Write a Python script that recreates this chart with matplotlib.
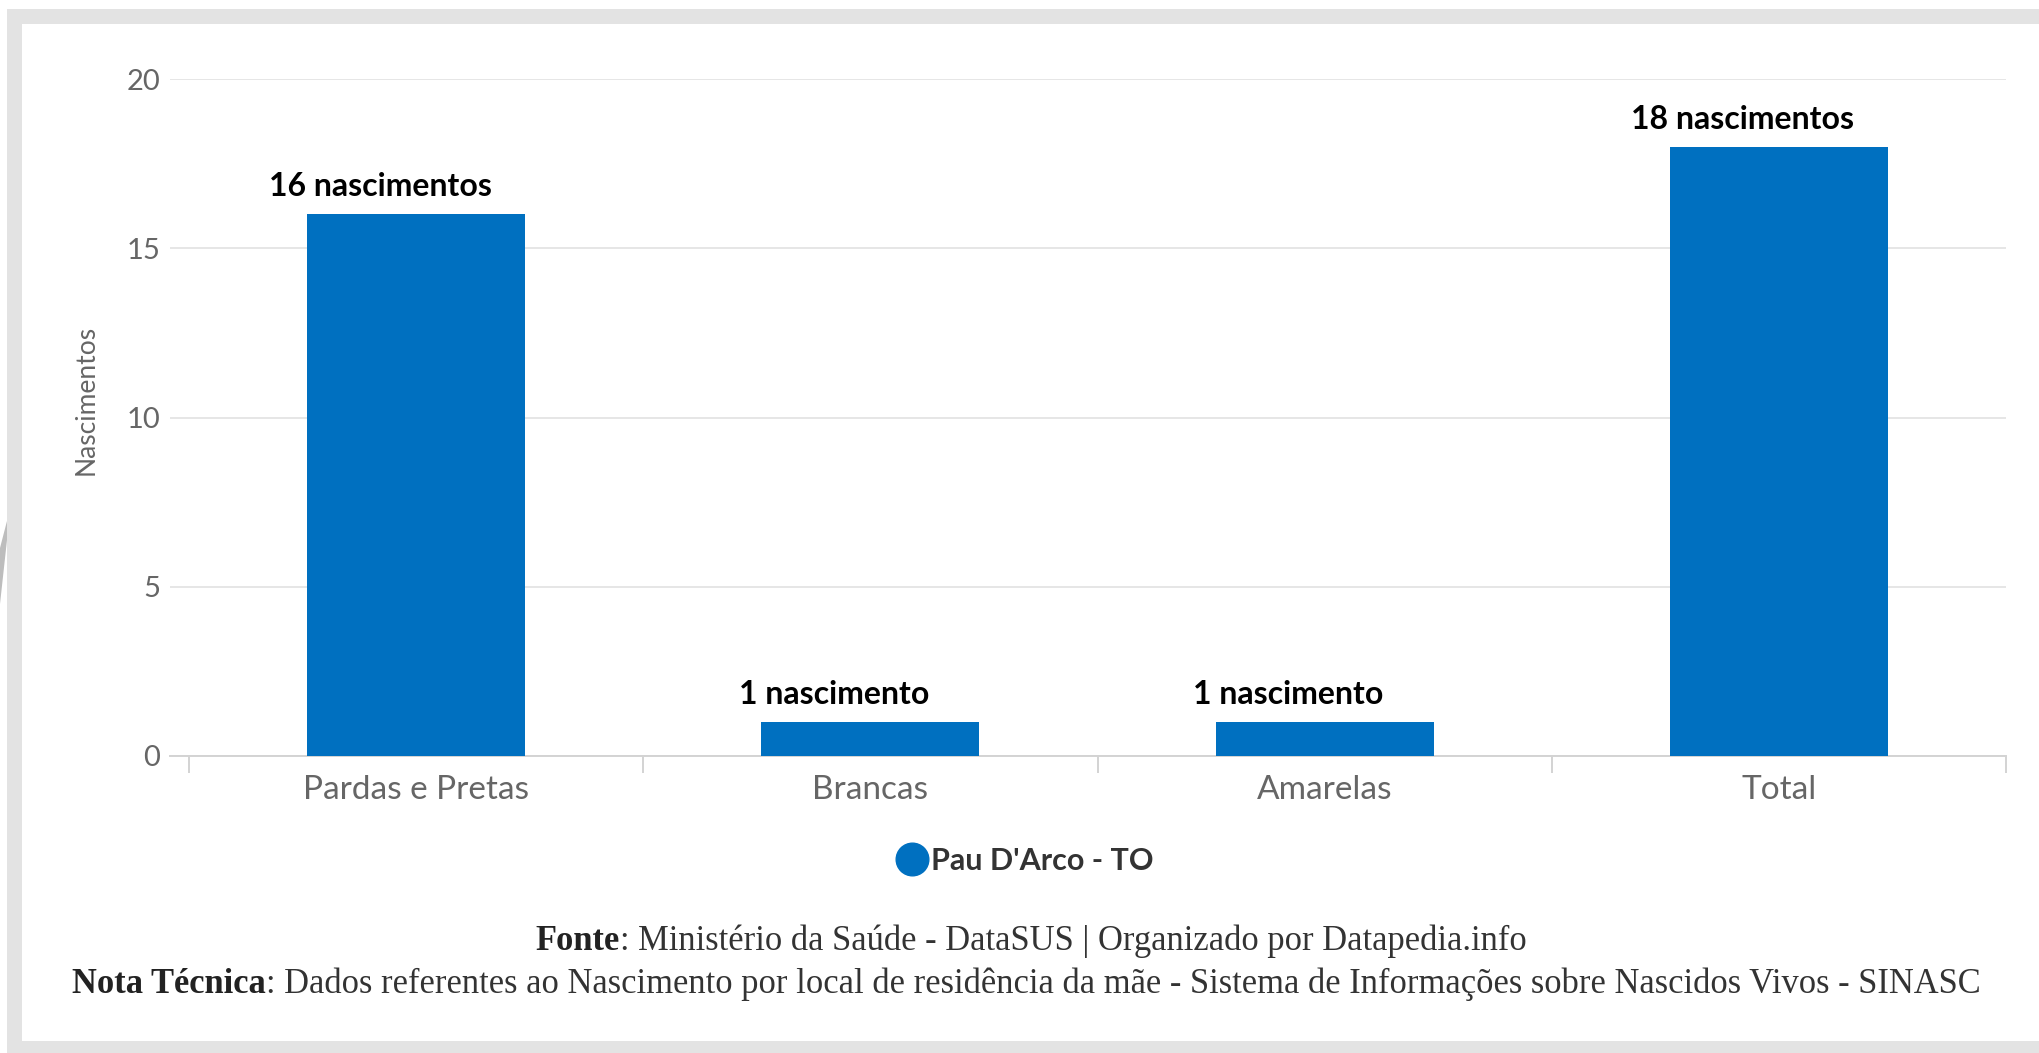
import matplotlib
matplotlib.use("Agg")
import matplotlib.pyplot as plt
from matplotlib.patches import Rectangle, Polygon
from matplotlib.lines import Line2D

# ---- data ----
categories = ["Pardas e Pretas", "Brancas", "Amarelas", "Total"]
births = [16, 1, 1, 18]
value_labels = ["16 nascimentos", "1 nascimento", "1 nascimento", "18 nascimentos"]
y_ticks = [0, 5, 10, 15, 20]
series_name = "Pau D'Arco - TO"
y_title = "Nascimentos"
source_bold = "Fonte"
source_rest = ": Ministério da Saúde - DataSUS | Organizado por Datapedia.info"
note_bold = "Nota Técnica"
note_rest = (": Dados referentes ao Nascimento por local de residência da mãe - "
             "Sistema de Informações sobre Nascidos Vivos - SINASC")

# ---- style ----
W, H = 2040, 1053
BAR = "#0070c0"
GRID = "#e6e6e6"
AXIS = "#d3d3d3"
LABEL = "#666666"
FRAME = "#e3e3e3"
SANS = ["Lato", "DejaVu Sans"]
SERIF = ["Liberation Serif", "DejaVu Serif"]

fig = plt.figure(figsize=(W / 100, H / 100), dpi=100)
fig.patch.set_facecolor("white")


def fx(px):
    return px / W


def fy(py):
    return 1 - py / H


def frame_rect(x0, y0, x1, y1, color, z):
    fig.patches.append(Rectangle((fx(x0), fy(y1)), fx(x1) - fx(x0), fy(y0) - fy(y1),
                                 transform=fig.transFigure, facecolor=color,
                                 edgecolor="none", zorder=z))


# light grey card border
frame_rect(7, 9, W, H, FRAME, 0)
frame_rect(22, 24, W, 1041, "white", 0.5)
fig.patches.append(Polygon([(fx(7), fy(521)), (fx(7), fy(540)), (fx(0), fy(604)), (fx(0), fy(548))],
                           closed=True, transform=fig.transFigure, facecolor="#bdbdbd",
                           edgecolor="none", zorder=1))

# ---- plot area ----
ax = fig.add_axes([fx(170), fy(756), fx(2006) - fx(170), fy(79) - fy(756)])
ax.set_facecolor("none")
ax.set_zorder(2)
x = list(range(len(categories)))
ax.bar(x, births, width=0.48, color=BAR, zorder=3)
ax.set_xlim(-0.5 - 19 / 454, len(categories) - 0.5)
ax.set_ylim(0, 20)

ax.set_yticks(y_ticks)
ax.set_yticklabels([str(t) for t in y_ticks], fontsize=21, color=LABEL, family=SANS)
ax.tick_params(axis="y", length=0, pad=7)
ax.yaxis.grid(True, color=GRID, linewidth=1.4, zorder=0)
ax.set_axisbelow(True)

ax.set_xticks(x)
ax.set_xticklabels(categories, fontsize=24, color=LABEL, family=SANS)
ax.tick_params(axis="x", length=0, pad=13.5)
ax.set_xticks([i - 0.5 for i in range(len(categories) + 1)], minor=True)
ax.tick_params(axis="x", which="minor", length=12.5, width=1.4, color=AXIS)

for side in ["top", "right", "left"]:
    ax.spines[side].set_visible(False)
ax.spines["bottom"].set_color(AXIS)
ax.spines["bottom"].set_linewidth(1.4)

ax.set_ylabel(y_title, fontsize=19, color=LABEL, family=SANS)
ax.yaxis.set_label_coords(-0.039, (756 - 400) / (756 - 79))

for xi, v, lab in zip(x, births, value_labels):
    ax.annotate(lab, (xi, v), xytext=(-36, 18), textcoords="offset pixels",
                ha="center", va="baseline", fontsize=23, fontweight="bold",
                color="black", family=SANS, zorder=4)

# ---- legend ----
handle = Line2D([], [], marker="o", linestyle="none", markersize=23.5,
                markerfacecolor=BAR, markeredgecolor=BAR)
fig.legend([handle], [series_name], loc="center", bbox_to_anchor=(fx(1026), fy(861)),
           frameon=False, handlelength=0.9, handletextpad=0.15, borderpad=0,
           prop={"family": SANS, "weight": "bold", "size": 22}, labelcolor="#333333")

# ---- footer notes (bold lead-in followed by regular text) ----
renderer = fig.canvas.get_renderer()


def mixed_line(bold, rest, cx, baseline, size):
    t1 = fig.text(0, fy(baseline), bold, fontsize=size, fontweight="bold",
                  family=SERIF, color="#222222", ha="left", va="baseline")
    t2 = fig.text(0, fy(baseline), rest, fontsize=size, family=SERIF,
                  color="#333333", ha="left", va="baseline")
    w1 = t1.get_window_extent(renderer).width
    w2 = t2.get_window_extent(renderer).width
    start = cx - (w1 + w2) / 2
    t1.set_x(fx(start))
    t2.set_x(fx(start + w1))
    return t1, t2


# size the notes so the longer line spans the card's text width
note_size = 24.0
for _ in range(4):
    probe = mixed_line(note_bold, note_rest, 1024, 993, note_size)
    probe_w = sum(t.get_window_extent(renderer).width for t in probe)
    for t in probe:
        t.remove()
    note_size *= 1915 / probe_w

mixed_line(source_bold, source_rest, 1031, 950, note_size)
mixed_line(note_bold, note_rest, 1026, 993, note_size)

fig.savefig("out.png", dpi=100, facecolor="white")
